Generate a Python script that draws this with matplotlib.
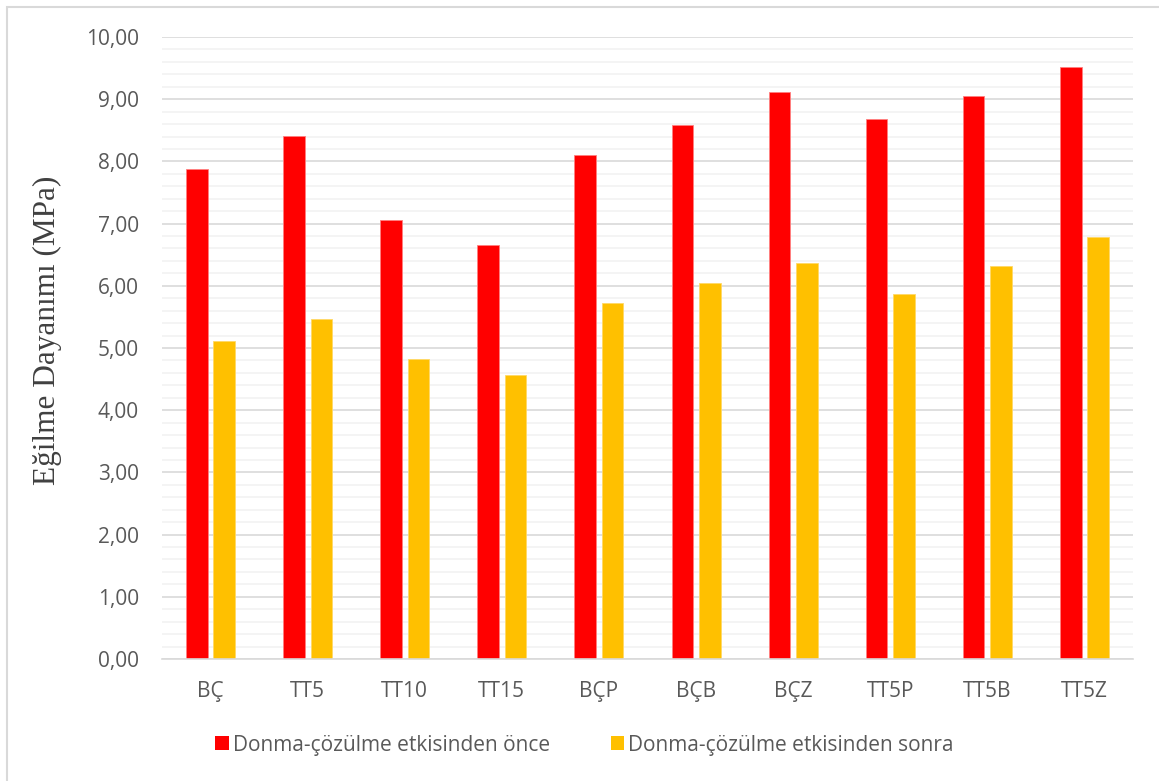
import matplotlib
matplotlib.use("Agg")
import matplotlib.pyplot as plt
import matplotlib.ticker as mticker
from matplotlib.patches import Rectangle, Patch
import numpy as np

# Dati
categorie = ["BÇ", "TT5", "TT10", "TT15", "BÇP", "BÇB", "BÇZ", "TT5P", "TT5B", "TT5Z"]
prima = [7.87, 8.41, 7.05, 6.65, 8.11, 8.59, 9.12, 8.68, 9.05, 9.52]
dopo = [5.12, 5.46, 4.83, 4.56, 5.73, 6.05, 6.37, 5.87, 6.32, 6.79]
etichette = ["Donma-çözülme etkisinden önce", "Donma-çözülme etkisinden sonra"]

COLOR_RED = "#FF0000"
COLOR_YEL = "#FFC000"
COLOR_TXT = "#595959"
COLOR_MAJ = "#D9D9D9"
COLOR_MIN = "#F2F2F2"
FONT = "Open Sans"
FS = 15

W, H = 1159, 781
fig = plt.figure(figsize=(W / 100, H / 100), dpi=100)
ax = fig.add_axes([162 / W, 1 - 659 / H, (1133 - 162) / W, (659 - 37) / H])

x = np.arange(len(categorie))
bw = 0.223
off = 0.141
ax.bar(x - off, prima, width=bw, color=COLOR_RED, edgecolor="#FF8080", linewidth=0.6, zorder=3)
ax.bar(x + off, dopo, width=bw, color=COLOR_YEL, edgecolor="#FFD966", linewidth=0.6, zorder=3)

ax.set_xlim(-0.5, len(categorie) - 0.5)
ax.set_ylim(0, 10)
ax.yaxis.set_major_locator(mticker.MultipleLocator(1))
ax.yaxis.set_minor_locator(mticker.MultipleLocator(0.2))
ax.yaxis.set_major_formatter(mticker.FuncFormatter(lambda v, p: f"{v:.2f}".replace(".", ",")))
ax.grid(True, which="major", axis="y", color=COLOR_MAJ, linewidth=1.2, zorder=1)
ax.grid(True, which="minor", axis="y", color=COLOR_MIN, linewidth=1.2, zorder=0)
ax.set_xticks(x)
ax.set_xticklabels(categorie)

for s in ["top", "right", "left"]:
    ax.spines[s].set_visible(False)
ax.spines["bottom"].set_color(COLOR_MAJ)
ax.spines["bottom"].set_linewidth(1.2)
ax.spines["bottom"].set_zorder(4)

ax.tick_params(axis="both", which="both", length=0, colors=COLOR_TXT, labelsize=FS)
ax.tick_params(axis="x", pad=16)
ax.tick_params(axis="y", pad=16.5)
for lab in ax.get_xticklabels() + ax.get_yticklabels():
    lab.set_fontfamily(FONT)

ax.set_ylabel("Eğilme Dayanımı (MPa)", fontsize=22.5, family="Liberation Serif",
              color="#404040")
ax.yaxis.set_label_coords(-0.103, 0.529)

handles = [Patch(facecolor=COLOR_RED), Patch(facecolor=COLOR_YEL)]
fig.legend(handles, etichette, loc="center", bbox_to_anchor=(584.5 / W, 1 - 745 / H),
           ncol=2, frameon=False, prop={"family": FONT, "size": FS},
           labelcolor=COLOR_TXT, handlelength=0.65, handleheight=0.65,
           handletextpad=0.2, columnspacing=2.9)

# cornice esterna
fig.add_artist(Rectangle((7 / W, -0.05), 1.2, 1 - 7 / H + 0.05,
                         transform=fig.transFigure, fill=False,
                         edgecolor="#D9D9D9", linewidth=1.5))

fig.savefig("out.png", dpi=100, facecolor="white")
